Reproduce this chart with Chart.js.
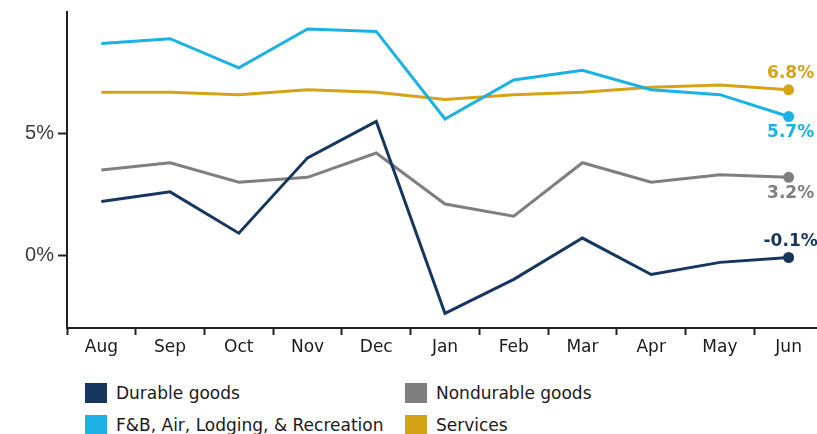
<!DOCTYPE html>
<html>
<head>
<meta charset="utf-8">
<script src="https://cdn.jsdelivr.net/npm/chart.js@4/dist/chart.umd.min.js"></script>
<style>
    html, body { margin: 0; padding: 0; background: #fff; overflow: hidden; }
    #wrap { position: relative; width: 830px; height: 434px; }
    #legend { position: absolute; left: 85px; top: 382px; font: 17px "DejaVu Sans", Verdana, sans-serif; color: #1a1a1a; }
    .item { position: absolute; white-space: nowrap; height: 22px; line-height: 22px; }
    .box { display: inline-block; width: 22px; height: 20px; vertical-align: middle; margin-right: 9px; margin-top: -3px; }
</style>
</head>
<body>
<div id="wrap">
    <canvas id="trend-chart" width="830" height="360"></canvas>
    <div id="legend"></div>
</div>
<script>
// monthly change, percent
let months = ['Aug', 'Sep', 'Oct', 'Nov', 'Dec', 'Jan', 'Feb', 'Mar', 'Apr', 'May', 'Jun']
let durableGoods = [2.2, 2.6, 0.9, 4.0, 5.5, -2.4, -1.0, 0.7, -0.8, -0.3, -0.1]
let nondurableGoods = [3.5, 3.8, 3.0, 3.2, 4.2, 2.1, 1.6, 3.8, 3.0, 3.3, 3.2]
let fbAirLodging = [8.7, 8.9, 7.7, 9.3, 9.2, 5.6, 7.2, 7.6, 6.8, 6.6, 5.7]
let services = [6.7, 6.7, 6.6, 6.8, 6.7, 6.4, 6.6, 6.7, 6.9, 7.0, 6.8]
let yTicks = [0, 5]

let series = [
    { label: 'Durable goods', data: durableGoods, color: '#17365f', endLabel: 'above', legendRow: 0, legendCol: 0 },
    { label: 'F&B, Air, Lodging, & Recreation', data: fbAirLodging, color: '#1bb1e4', endLabel: 'below', legendRow: 1, legendCol: 0 },
    { label: 'Nondurable goods', data: nondurableGoods, color: '#7f7f7f', endLabel: 'below', legendRow: 0, legendCol: 1 },
    { label: 'Services', data: services, color: '#d5a317', endLabel: 'above', legendRow: 1, legendCol: 1 }
]

let lastIndex = months.length - 1

// value tag next to the final point of each line
let endLabels = {
    id: 'endLabels',
    afterDatasetsDraw(chart) {
        let ctx = chart.ctx
        ctx.save()
        ctx.font = 'bold 17px "DejaVu Sans", Verdana, sans-serif'
        ctx.textAlign = 'center'
        ctx.textBaseline = 'middle'
        chart.data.datasets.forEach((dataset, i) => {
            let point = chart.getDatasetMeta(i).data[lastIndex]
            let value = dataset.data[lastIndex]
            let offset = series[i].endLabel === 'above' ? -16 : 16
            ctx.fillStyle = dataset.borderColor
            ctx.fillText(value.toFixed(1) + '%', point.x + 2, point.y + offset)
        })
        ctx.restore()
    }
}

let chartElement = document.getElementById('trend-chart').getContext('2d')

let trendChart = new Chart(chartElement, {
    type: 'line',
    data: {
        labels: months,
        datasets: series.map(s => ({
            label: s.label,
            data: s.data,
            borderColor: s.color,
            backgroundColor: s.color,
            borderWidth: 3,
            tension: 0,
            pointRadius: ctx => ctx.dataIndex === lastIndex ? 4 : 0,
            pointHoverRadius: 0
        }))
    },
    options: {
        responsive: false,
        animation: false,
        devicePixelRatio: 1,
        layout: { padding: { top: 10, right: 7, left: 0, bottom: 0 } },
        plugins: {
            legend: { display: false },
            tooltip: { enabled: false }
        },
        scales: {
            x: {
                offset: true,
                grid: { offset: true, drawOnChartArea: false, tickLength: 7, tickColor: '#222', tickWidth: 2 },
                border: { display: true, color: '#222', width: 2 },
                ticks: {
                    padding: 2,
                    color: '#1a1a1a',
                    font: { family: '"DejaVu Sans", Verdana, sans-serif', size: 17 },
                    maxRotation: 0
                },
                afterFit: scale => { scale.height = 32 }
            },
            y: {
                min: -3,
                max: 10,
                grid: { drawOnChartArea: false, tickLength: 9, tickColor: '#222', tickWidth: 2 },
                border: { display: true, color: '#222', width: 2 },
                afterBuildTicks: scale => { scale.ticks = yTicks.map(v => ({ value: v })) },
                ticks: {
                    padding: 4,
                    color: '#3a3a3a',
                    font: { family: '"Liberation Sans", Arial, sans-serif', size: 20, lineHeight: 0.8 },
                    callback: value => value + '%'
                },
                afterFit: scale => { scale.width = 67 }
            }
        }
    },
    plugins: [endLabels]
})

// two-column legend under the plot
let legendElement = document.getElementById('legend')
series.forEach(s => {
    let item = document.createElement('div')
    item.className = 'item'
    item.style.left = (s.legendCol * 320) + 'px'
    item.style.top = (s.legendRow * 32) + 'px'
    let box = document.createElement('span')
    box.className = 'box'
    box.style.background = s.color
    item.appendChild(box)
    item.appendChild(document.createTextNode(s.label))
    legendElement.appendChild(item)
})
</script>
</body>
</html>
